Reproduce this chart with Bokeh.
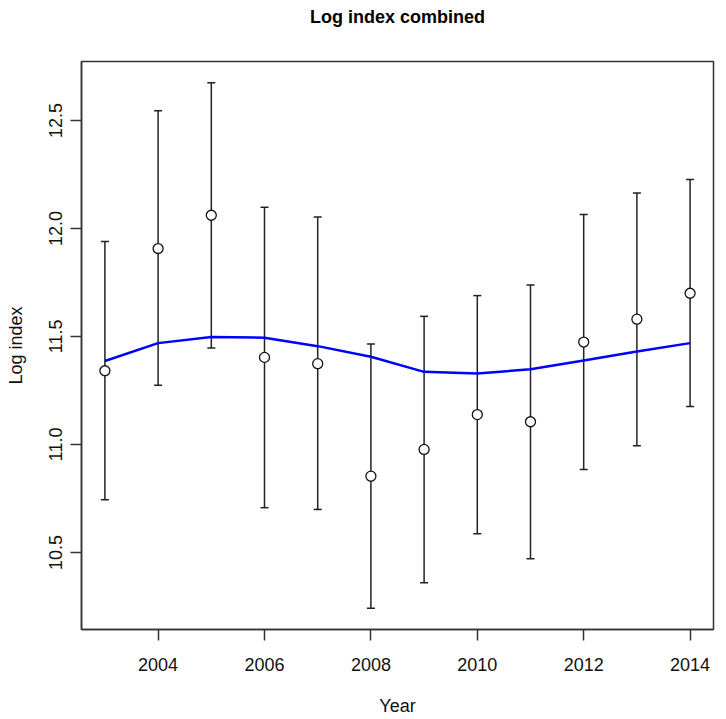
from bokeh.plotting import figure
from bokeh.models import FixedTicker, PrintfTickFormatter, Range1d, Title
from bokeh.embed import file_html
from bokeh.resources import INLINE

years = [2003, 2004, 2005, 2006, 2007, 2008, 2009, 2010, 2011, 2012, 2013, 2014]
log_index = [11.341, 11.907, 12.061, 11.403, 11.374, 10.853, 10.977, 11.138, 11.105, 11.474, 11.580, 11.700]
upper = [11.940, 12.545, 12.675, 12.098, 12.053, 11.465, 11.593, 11.689, 11.738, 12.065, 12.164, 12.227]
lower = [10.744, 11.274, 11.447, 10.707, 10.699, 10.241, 10.360, 10.586, 10.471, 10.884, 10.994, 11.176]
fitted = [11.386, 11.469, 11.497, 11.494, 11.455, 11.406, 11.336, 11.328, 11.348, 11.389, 11.430, 11.469]
x_ticks = [2004, 2006, 2008, 2010, 2012, 2014]
y_ticks = [10.5, 11.0, 11.5, 12.0, 12.5]
title_text = "Log index combined"

FONT = "Liberation Sans"

p = figure(width=718, height=719, output_backend="svg", toolbar_location=None,
           x_range=Range1d(2002.56, 2014.44), y_range=Range1d(10.143, 12.773),
           min_border_left=81, min_border_right=5, min_border_top=61, min_border_bottom=90,
           title=title_text)

# blank spacer panel between the frame and the title
spacer = Title(text=" ", text_font=FONT, text_font_size="18px", standoff=13)
p.add_layout(spacer, "above")

p.title.align = "center"
p.title.text_font = FONT
p.title.text_font_style = "bold"
p.title.text_font_size = "18px"
p.title.text_color = "black"
p.title.standoff = 0

p.grid.visible = False
p.outline_line_color = "#333333"
p.outline_line_width = 1.5
p.outline_line_alpha = 1.0
p.background_fill_color = "white"
p.border_fill_color = "white"

for ax in (p.xaxis[0], p.yaxis[0]):
    ax.axis_line_color = "#333333"
    ax.axis_line_width = 1.5
    ax.major_tick_line_color = "#333333"
    ax.major_tick_line_width = 1.5
    ax.major_tick_out = 11
    ax.major_tick_in = 0
    ax.minor_tick_line_color = None
    ax.major_label_text_font = FONT
    ax.major_label_text_font_size = "18px"
    ax.major_label_text_color = "#111111"
    ax.axis_label_text_font = FONT
    ax.axis_label_text_font_size = "18px"
    ax.axis_label_text_font_style = "normal"
    ax.axis_label_text_color = "#111111"

p.xaxis.ticker = FixedTicker(ticks=x_ticks)
p.yaxis.ticker = FixedTicker(ticks=y_ticks)
p.yaxis.formatter = PrintfTickFormatter(format="%.1f")
p.xaxis.formatter = PrintfTickFormatter(format="%d")
p.yaxis.major_label_orientation = "vertical"
p.xaxis.axis_label = "Year"
p.yaxis.axis_label = "Log index"
p.xaxis.major_label_standoff = 17
p.xaxis.axis_label_standoff = 22
p.yaxis.major_label_standoff = 8
p.yaxis.axis_label_standoff = 21

# error bars
p.segment(x0=years, y0=lower, x1=years, y1=upper, line_color="#222222", line_width=1.5)
p.scatter(x=years, y=upper, marker="dash", size=8, line_color="#222222", line_width=1.5)
p.scatter(x=years, y=lower, marker="dash", size=8, line_color="#222222", line_width=1.5)

# fitted trend
p.line(x=years, y=fitted, line_color="#0000ff", line_width=2.5)

# observed points
p.scatter(x=years, y=log_index, marker="circle", size=10, fill_color="white",
          line_color="#111111", line_width=1.3)

open("out.html", "w").write(file_html(p, INLINE))
